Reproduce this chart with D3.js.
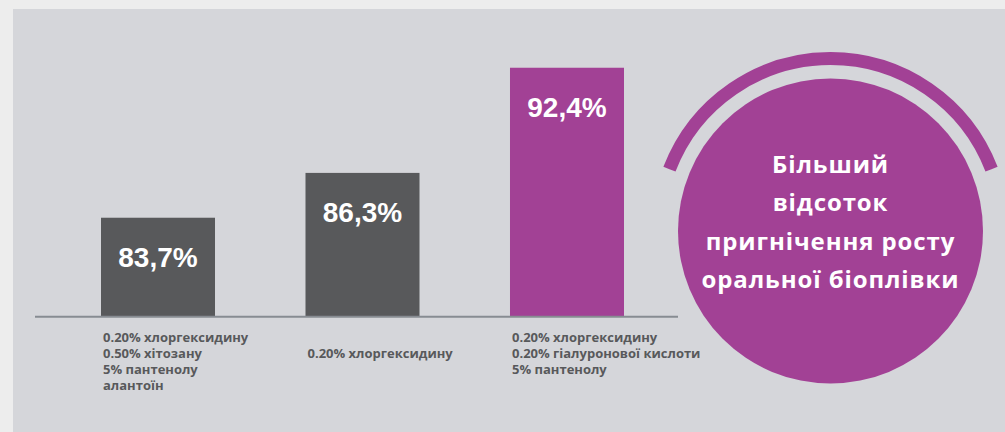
<!DOCTYPE html>
<html lang="uk">
<head>
    <meta charset="UTF-8">
    <title>Пригнічення росту оральної біоплівки</title>
    <script src="https://d3js.org/d3.v7.min.js"></script>
    <style>
        body { margin: 0; overflow: hidden; background: #ededed; }
        .value { font-family: "Liberation Sans", Arial, sans-serif; font-weight: bold; fill: #fff; }
        .cat { font-family: "Open Sans", "Noto Sans", sans-serif; font-weight: 700; fill: #58595b; }
        .badge { font-family: "Open Sans", "Noto Sans", sans-serif; font-weight: 700; fill: #fff; }
    </style>
</head>
<body>
    <svg id="chart"></svg>
    <script>
        // data
        const categories = ["chx_chitosan", "chx", "chx_hyaluronic"];
        const values = [83.7, 86.3, 92.4];
        const valueLabels = ["83,7%", "86,3%", "92,4%"];
        const catLabels = [
            ["0.20% хлоргексидину", "0.50% хітозану", "5% пантенолу", "алантоїн"],
            ["", "0.20% хлоргексидину"],
            ["0.20% хлоргексидину", "0.20% гіалуронової кислоти", "5% пантенолу"]
        ];
        const barColors = ["#58595b", "#58595b", "#a24195"];
        const badgeLines = ["Більший", "відсоток", "пригнічення росту", "оральної біоплівки"];

        const width = 1005, height = 432;
        const purple = "#a24195";

        const svg = d3.select("#chart")
            .attr("width", width)
            .attr("height", height);

        // panel
        svg.append("rect")
            .attr("x", 13).attr("y", 9)
            .attr("width", width - 13).attr("height", height - 9)
            .attr("fill", "#d5d6da");

        const baseY = 316;

        const x = d3.scaleBand()
            .domain(categories)
            .range([101, 624])
            .paddingInner(0.4425)
            .paddingOuter(0);

        const y = d3.scaleLinear()
            .domain([78, 93])
            .range([baseY, 57.4]);

        // bars
        svg.selectAll(".bar")
            .data(categories)
            .join("rect")
            .attr("class", "bar")
            .attr("x", d => x(d))
            .attr("width", x.bandwidth())
            .attr("y", (d, i) => y(values[i]))
            .attr("height", (d, i) => baseY - y(values[i]))
            .attr("fill", (d, i) => barColors[i]);

        // baseline
        svg.append("line")
            .attr("x1", 35).attr("x2", 678)
            .attr("y1", baseY + 0.8).attr("y2", baseY + 0.8)
            .attr("stroke", "#878c92")
            .attr("stroke-width", 2);

        // value labels
        svg.selectAll(".value")
            .data(categories)
            .join("text")
            .attr("class", "value")
            .attr("x", d => x(d) + x.bandwidth() / 2)
            .attr("y", (d, i) => y(values[i]) + 49)
            .attr("text-anchor", "middle")
            .attr("font-size", 28)
            .text((d, i) => valueLabels[i]);

        // category labels
        const cat = svg.selectAll(".cat")
            .data(categories)
            .join("text")
            .attr("class", "cat")
            .attr("font-size", 13)
            .attr("transform", d => `translate(${x(d) + 2},${baseY + 26})`);

        cat.selectAll("tspan")
            .data((d, i) => catLabels[i])
            .join("tspan")
            .attr("x", 0)
            .attr("y", (d, j) => j * 16)
            .text(d => d);

        // badge circle with arc
        const cx = 830.5, cy = 231, r = 152.5;
        const badge = svg.append("g").attr("transform", `translate(${cx},${cy})`);

        badge.append("path")
            .attr("d", d3.arc()
                .innerRadius(172.5)
                .outerRadius(172.5)
                .startAngle(-69 * Math.PI / 180)
                .endAngle(69 * Math.PI / 180)())
            .attr("fill", "none")
            .attr("stroke", purple)
            .attr("stroke-width", 13)
            .attr("stroke-linecap", "round");

        badge.append("circle")
            .attr("r", r)
            .attr("fill", purple);

        badge.append("text")
            .attr("class", "badge")
            .attr("text-anchor", "middle")
            .attr("font-size", 24)
            .attr("letter-spacing", 0.9)
            .selectAll("tspan")
            .data(badgeLines)
            .join("tspan")
            .attr("x", 0)
            .attr("y", (d, i) => -58 + i * 38.3)
            .text(d => d);
    </script>
</body>
</html>
